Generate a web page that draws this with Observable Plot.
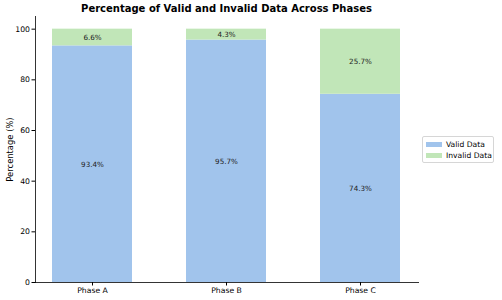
<!DOCTYPE html>
<html>
<head>
<meta charset="utf-8">
<script src="https://cdn.jsdelivr.net/npm/d3@7"></script>
<script src="https://cdn.jsdelivr.net/npm/@observablehq/plot@0.6"></script>
<style>
  html, body { margin: 0; padding: 0; background: #fff; }
  #wrap { position: relative; width: 502px; height: 300px; font-family: "DejaVu Sans", sans-serif; }
  #title { position: absolute; left: 35px; width: 383px; top: 2.5px; text-align: center; font-weight: bold; font-size: 10px; color: #000; white-space: nowrap; }
  #legend { position: absolute; left: 422px; top: 136px; width: 70px; height: 25px; border: 1px solid #d6d6d6; border-radius: 2px; background: #fff; font-size: 7.6px; color: #000; }
  .item { position: absolute; left: 3px; height: 9px; display: flex; align-items: center; white-space: nowrap; }
  .sw { width: 16px; height: 5.5px; margin-right: 4px; }
  #plot { position: absolute; left: 0; top: 0; }
</style>
</head>
<body>
<div id="wrap">
  <div id="plot"></div>
  <div id="title">Percentage of Valid and Invalid Data Across Phases</div>
  <div id="legend"></div>
</div>
<script>
const phases = ["Phase A", "Phase B", "Phase C"];
const validValues = [93.4, 95.7, 74.3];
const invalidValues = [6.6, 4.3, 25.7];
const seriesNames = ["Valid Data", "Invalid Data"];
const seriesColors = ["#a1c4ec", "#c1e6b8"];
const yTicks = [0, 20, 40, 60, 80, 100];

const rows = [];
phases.forEach((p, i) => {
  rows.push({phase: p, type: seriesNames[0], value: validValues[i]});
  rows.push({phase: p, type: seriesNames[1], value: invalidValues[i]});
});

const chart = Plot.plot({
  width: 502,
  height: 300,
  marginTop: 16,
  marginBottom: 18,
  marginLeft: 35,
  marginRight: 84,
  style: {fontFamily: "DejaVu Sans, sans-serif", fontSize: "7.7px", color: "#000", background: "transparent"},
  x: {domain: phases, padding: 0.4, paddingOuter: 0.129, align: 0.5, label: null},
  y: {domain: [0, 105], label: null},
  color: {domain: seriesNames, range: seriesColors},
  marks: [
    Plot.barY(rows, {x: "phase", y: "value", fill: "type", order: seriesNames}),
    Plot.text(rows, Plot.stackY({x: "phase", y: "value", z: "type", order: seriesNames,
      text: d => d.value.toFixed(1) + "%", fill: "#222", fontSize: 7.2})),
    Plot.axisY({ticks: yTicks, tickSize: 3.5, tickPadding: 2, tickFormat: d => String(d), fontSize: 7.7}),
    Plot.axisY({ticks: [], tickSize: 0, label: "Percentage (%)", labelAnchor: "center", labelArrow: "none", labelOffset: 28, fontSize: 8.4}),
    Plot.axisX({tickSize: 3.5, tickPadding: 2, label: null, fontSize: 7.7}),
    Plot.frame({anchor: "left", stroke: "#000", strokeWidth: 0.8}),
    Plot.frame({anchor: "bottom", stroke: "#000", strokeWidth: 0.8})
  ]
});
document.getElementById("plot").appendChild(chart);

const lg = document.getElementById("legend");
seriesNames.forEach((n, i) => {
  const it = document.createElement("div");
  it.className = "item";
  it.style.top = (3 + i * 11) + "px";
  it.innerHTML = `<div class="sw" style="background:${seriesColors[i]}"></div><span>${n}</span>`;
  lg.appendChild(it);
});
</script>
</body>
</html>
